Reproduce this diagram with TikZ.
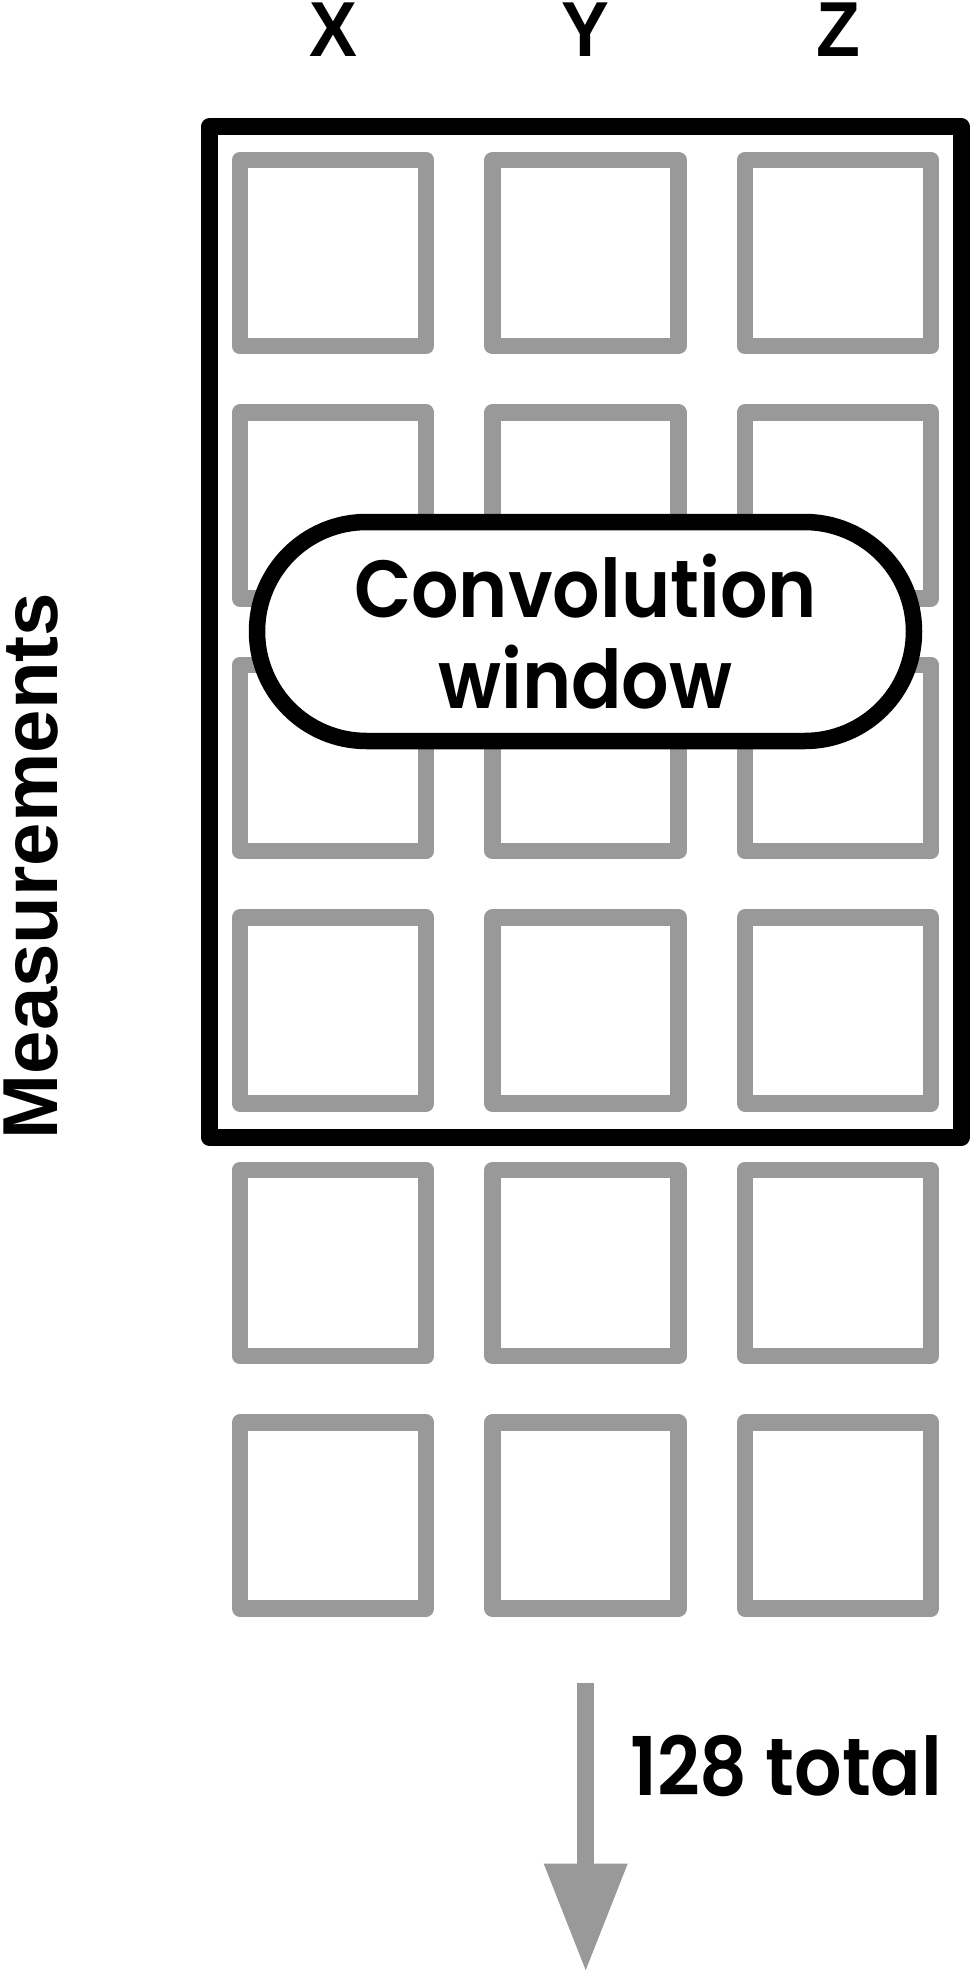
\documentclass[tikz,border=0pt]{standalone}
\usepackage{fontspec}
\setmainfont{Poppins}[BoldFont={Poppins SemiBold}]
\newfontfamily\arialfont{Liberation Sans}
\usetikzlibrary{shapes.misc,arrows.meta}
\definecolor{cellgray}{RGB}{153,153,153}
\tikzset{
  cell/.style={draw=cellgray, line width=16.5pt, minimum size=186pt, inner sep=0pt, outer sep=0pt, line join=round},
  winbox/.style={draw=black, line width=17pt, minimum width=752.5pt, minimum height=1010pt, inner sep=0pt, line join=round},
  pill/.style={rounded rectangle, draw=black, fill=white, line width=16.5pt, minimum width=657pt, minimum height=219pt, inner sep=0pt, align=center, font=\fontsize{81}{91}\selectfont\bfseries},
  axislabel/.style={font=\arialfont\bfseries\fontsize{78}{80}\selectfont, inner sep=0pt, anchor=base},
  flowarrow/.style={draw=cellgray, line width=16.7pt, -{Triangle[length=108pt, width=79pt]}, fill=cellgray}
}
\begin{document}
\begin{tikzpicture}[x=1pt, y=-1pt]
\useasboundingbox (0,0) rectangle (971,1972);
% cells
\foreach \r in {0,...,5}{
  \foreach \c/\n in {0/1,1/2,2/3}{
    \node[cell] (c\r\n) at ({333+252.5*\c},{253+252.5*\r}) {};
  }
}
% window frame
\node[winbox] (frame) at (585.25,632) {};
% convolution window
\node[pill] (conv) at (585.5,631.5) {\scalebox{0.92}[1]{Convolution}\\\scalebox{0.92}[1]{window}};
% column labels
\node[axislabel] (lx) at (333,57) {\scalebox{0.92}[1]{X}};
\node[axislabel] (ly) at (585.5,57) {\scalebox{0.92}[1]{Y}};
\node[axislabel] (lz) at (838,57) {\scalebox{0.92}[1]{Z}};
% measurements
\node[font=\arialfont\bfseries\fontsize{78}{80}\selectfont, inner sep=0pt, rotate=90, anchor=base] (meas) at (57,866) {Measurements};
% arrow
\coordinate (a1) at (585.7,1682.7);
\coordinate (a2) at (585.7,1971.7);
\draw[flowarrow] (a1) -- (a2);
\node[font=\fontsize{81}{91}\selectfont\bfseries, inner sep=0pt, anchor=base west] (tot) at (630,1795.7) {\scalebox{0.92}[1]{128 total}};
\end{tikzpicture}
\end{document}
